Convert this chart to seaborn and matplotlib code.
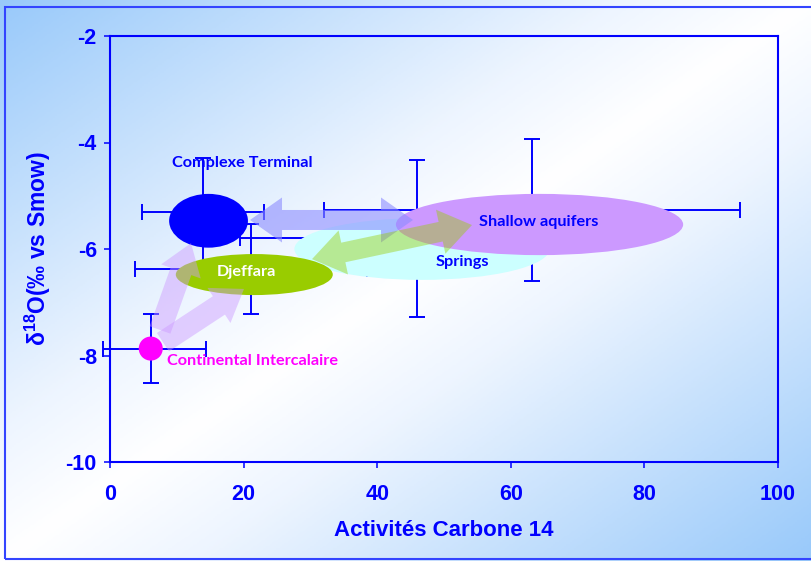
import numpy as np
import matplotlib
matplotlib.use("Agg")
import matplotlib.pyplot as plt
from matplotlib.patches import Ellipse, Polygon, Rectangle
from matplotlib.colors import LinearSegmentedColormap
import pandas as pd
import seaborn as sns

# Aquifer groups: mean 14C activity and mean δ18O with their spreads
groups = ["Complexe Terminal", "Djeffara", "Springs", "Shallow aquifers", "Continental Intercalaire"]
c14_mean = [13.9, 21.1, 46.0, 63.2, 6.1]
c14_err_lo = [9.1, 17.4, 26.5, 31.1, 7.2]
c14_err_hi = [9.1, 17.4, 26.5, 31.1, 8.2]
o18_mean = [-5.31, -6.38, -5.80, -5.27, -7.87]
o18_err = [1.01, 0.85, 1.47, 1.33, 0.65]

# Fields (ellipses) outlining each group
field_names = ["Springs", "Shallow aquifers", "Complexe Terminal", "Djeffara"]
field_x = [46.7, 64.3, 14.75, 21.6]
field_y = [-6.0, -5.54, -5.47, -6.48]
field_w = [38.2, 43.0, 11.8, 23.5]
field_h = [1.16, 1.15, 1.01, 0.77]
field_colors = ["#CCFFFF", "#CC99FF", "#0000FF", "#99CC00"]

# Group labels
label_x = [19.8, 20.4, 52.7, 64.1, 21.3]
label_y = [-4.39, -6.43, -6.24, -5.50, -8.10]
label_colors = ["#0000FF", "#FFFFFF", "#0000FF", "#0000FF", "#FF00FF"]

# Mixing / recharge paths between groups
path_x0 = [20.96, 30.24, 7.49, 7.93]
path_y0 = [-5.455, -6.19, -7.52, -7.75]
path_x1 = [45.36, 54.19, 12.13, 20.06]
path_y1 = [-5.455, -5.55, -5.89, -6.75]
path_double = [True, True, False, False]
path_colors = ["#8C8CFF", "#99CC00", "#CC99FF", "#CC99FF"]
path_alpha = [0.6, 0.42, 0.45, 0.45]

x_ticks = [0, 20, 40, 60, 80, 100]
y_ticks = [-10, -8, -6, -4, -2]

BLUE = "#0000FF"

sns.set_theme(style="white")
plt.rcParams["font.family"] = ["Liberation Sans", "DejaVu Sans"]
plt.rcParams["axes.unicode_minus"] = False
plt.rcParams["mathtext.fontset"] = "custom"
plt.rcParams["mathtext.rm"] = "Liberation Sans:bold"
plt.rcParams["mathtext.bf"] = "Liberation Sans:bold"

W, H = 811, 561
fig = plt.figure(figsize=(W / 100, H / 100), dpi=100)

# diagonal blue-white-blue backdrop
bg = fig.add_axes([0, 0, 1, 1], zorder=-5)
bg.axis("off")
gx, gy = np.meshgrid(np.linspace(0, 1, 400), np.linspace(0, 1, 300))
tt = (gx + gy) / 2
cmap = LinearSegmentedColormap.from_list(
    "bgfade",
    [(0.0, (0.60, 0.79, 0.98)), (0.38, (0.93, 0.96, 1.0)), (0.5, (1.0, 1.0, 1.0)),
     (0.62, (0.93, 0.96, 1.0)), (1.0, (0.60, 0.79, 0.98))])
bg.imshow(tt, cmap=cmap, aspect="auto", extent=[0, 1, 0, 1], origin="upper", vmin=0, vmax=1)
bg.set_xlim(0, 1)
bg.set_ylim(0, 1)

fig.patches.append(Rectangle((5 / W, 2 / H), 1.2, (557 - 5) / H, transform=fig.transFigure,
                             fill=False, edgecolor="#3344FF", linewidth=1.5, zorder=10))

ax = fig.add_axes([110 / W, 1 - 462 / H, 668 / W, 426 / H])
ax.set_facecolor("none")
ax.set_xlim(0, 100)
ax.set_ylim(-10, -2)

df = pd.DataFrame({"group": groups, "c14": c14_mean, "o18": o18_mean,
                   "xlo": c14_err_lo, "xhi": c14_err_hi, "yerr": o18_err})

# error bars
ax.errorbar(df["c14"], df["o18"], xerr=[df["xlo"], df["xhi"]], yerr=df["yerr"],
            fmt="none", ecolor=BLUE, elinewidth=1.4, capsize=5.5, capthick=1.4,
            zorder=2, clip_on=False)

# group fields
for fx, fy, fw, fh, fc in zip(field_x, field_y, field_w, field_h, field_colors):
    ax.add_patch(Ellipse((fx, fy), fw, fh, facecolor=fc, edgecolor="none", zorder=3))

# Continental Intercalaire point
ci = df[df["group"] == "Continental Intercalaire"]
sns.scatterplot(data=ci, x="c14", y="o18", ax=ax, s=300, color="#FF00FF",
                edgecolor="none", zorder=3, legend=False)

fig.canvas.draw()


def arrow_shape(p0, p1, shaft, head_w, head_len, double):
    p0 = np.asarray(p0, float)
    p1 = np.asarray(p1, float)
    d = p1 - p0
    u = d / np.hypot(*d)
    n = np.array([-u[1], u[0]])
    sw, hw = shaft / 2, head_w / 2
    b1 = p1 - u * head_len
    if double:
        b0 = p0 + u * head_len
        pts = [p0, b0 + n * hw, b0 + n * sw, b1 + n * sw, b1 + n * hw, p1,
               b1 - n * hw, b1 - n * sw, b0 - n * sw, b0 - n * hw]
    else:
        pts = [p0 + n * sw, b1 + n * sw, b1 + n * hw, p1, b1 - n * hw, b1 - n * sw, p0 - n * sw]
    return np.array(pts)


to_disp = ax.transData
to_data = ax.transData.inverted()
for x0, y0, x1, y1, dbl, col, a in zip(path_x0, path_y0, path_x1, path_y1,
                                        path_double, path_colors, path_alpha):
    q0 = to_disp.transform((x0, y0))
    q1 = to_disp.transform((x1, y1))
    shaft, hw, hl = (20, 45, 32) if dbl else (22, 42, 30)
    poly = to_data.transform(arrow_shape(q0, q1, shaft, hw, hl, dbl))
    ax.add_patch(Polygon(poly, closed=True, facecolor=col, alpha=a, edgecolor="none", zorder=4))

for name, lx, ly, lc in zip(groups, label_x, label_y, label_colors):
    ax.text(lx, ly, name, color=lc, fontsize=11.7, fontweight="bold", family=["Lato", "DejaVu Sans"],
            ha="center", va="center", zorder=6)

# axes styling
for sp in ax.spines.values():
    sp.set_color(BLUE)
    sp.set_linewidth(1.5)
    sp.set_visible(True)
ax.set_xticks(x_ticks)
ax.set_yticks(y_ticks)
ax.set_xticklabels([str(v) for v in x_ticks])
ax.set_yticklabels([str(v) for v in y_ticks])
ax.tick_params(axis="both", direction="out", length=4.5, width=1.1, color=BLUE,
               labelcolor=BLUE, labelsize=15.5)
ax.tick_params(axis="x", pad=11, bottom=True)
ax.tick_params(axis="y", pad=5, left=True)
for lab in ax.get_xticklabels() + ax.get_yticklabels():
    lab.set_fontweight("bold")
ax.grid(False)

ax.set_xlabel("Activités Carbone 14", color=BLUE, fontsize=16, fontweight="bold")
ax.xaxis.set_label_coords(0.5, (462 - 530) / 426)
ax.xaxis.label.set_va("center")
ax.set_ylabel("δ$^{18}$O(‰ vs Smow)", color=BLUE, fontsize=16.5, fontweight="bold")
ax.yaxis.set_label_coords((38 - 110) / 668, 0.5)
ax.yaxis.label.set_va("center")

fig.savefig("out.png", dpi=100)
